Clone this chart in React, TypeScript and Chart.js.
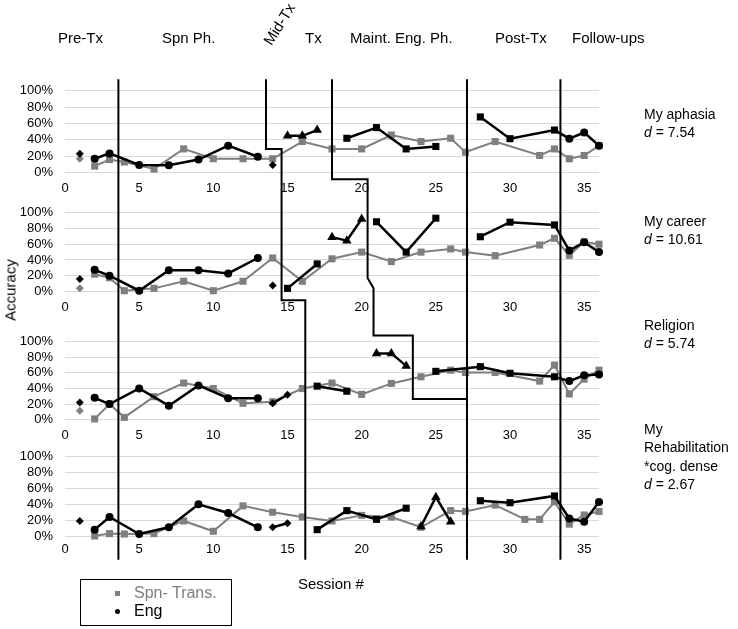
import React, { useEffect, useRef } from 'react';
import { Chart, registerables } from 'chart.js';
Chart.register(...registerables);

type Pt = [number, number];
type Sty = 'circle' | 'rect' | 'rectRot' | 'triangle';

// ---------- Panel 1: My aphasia ----------
const aphasiaSpnPre: Pt[] = [[1, 17]];
const aphasiaSpn: Pt[] = [[2, 8], [3, 16], [4, 13], [6, 4.5], [8, 29], [10, 17], [12, 17], [14, 17], [16, 38], [18, 29], [20, 29], [22, 46], [24, 38], [26, 42], [27, 25], [29, 38], [32, 21], [33, 29], [34, 17], [35, 21], [36, 33]];
const aphasiaEngPre: Pt[] = [[1, 23]];
const aphasiaEngSpnPh: Pt[] = [[2, 17], [3, 23.5], [5, 9.5], [7, 9], [9, 16], [11, 33], [13, 19.5]];
const aphasiaEngMid: Pt[] = [[14, 9.5]];
const aphasiaEngTx: Pt[] = [[15, 45], [16, 45], [17, 52]];
const aphasiaEngMaint: Pt[] = [[19, 42], [21, 55], [23, 29], [25, 32]];
const aphasiaEngPost: Pt[] = [[28, 68], [30, 41.5], [33, 52]];
const aphasiaEngFollow: Pt[] = [[34, 41.5], [35, 49], [36, 33]];

// ---------- Panel 2: My career ----------
const careerSpnPre: Pt[] = [[1, 4]];
const careerSpn: Pt[] = [[2, 22], [3, 17.5], [4, 1], [6, 4], [8, 13], [10, 1], [12, 13], [14, 42.5], [16, 13], [18, 41.5], [20, 50], [22, 38], [24, 50], [26, 54], [27, 50], [29, 45.5], [32, 59], [33, 67.5], [34, 46], [35, 63], [36, 60]];
const careerEngPre: Pt[] = [[1, 16]];
const careerEngSpnPh: Pt[] = [[2, 27.5], [3, 20], [5, 1], [7, 27], [9, 27], [11, 23], [13, 42.5]];
const careerEngMid: Pt[] = [[14, 7.5]];
const careerEngTxA: Pt[] = [[15, 4], [17, 35]];
const careerEngTxB: Pt[] = [[18, 69], [19, 64.5], [20, 92]];
const careerEngMaint: Pt[] = [[21, 88.5], [23, 50], [25, 93]];
const careerEngPost: Pt[] = [[28, 69.5], [30, 88], [33, 84.5]];
const careerEngFollow: Pt[] = [[34, 52], [35, 62.5], [36, 50]];

// ---------- Panel 3: Religion ----------
const religionSpnPre: Pt[] = [[1, 11.5]];
const religionSpn: Pt[] = [[2, 1], [3, 20], [4, 3], [6, 29.5], [8, 47], [10, 40], [12, 21], [14, 23], [16, 40], [18, 47], [20, 32.5], [22, 46.5], [24, 55], [26, 63.5], [27, 60.5], [29, 60.5], [32, 49.5], [33, 70], [34, 33], [35, 52], [36, 63.5]];
const religionEngPre: Pt[] = [[1, 22]];
const religionEngSpnPh: Pt[] = [[2, 28], [3, 20], [5, 40], [7, 18], [9, 44], [11, 27.5], [13, 27.5]];
const religionEngMid: Pt[] = [[14, 21], [15, 32]];
const religionEngTxA: Pt[] = [[17, 43], [19, 36.5]];
const religionEngTxB: Pt[] = [[21, 85], [22, 85], [23, 69]];
const religionEngMaint: Pt[] = [[25, 62]];
const religionEngPost: Pt[] = [[28, 68], [30, 59.5], [33, 55]];
const religionEngFollow: Pt[] = [[34, 49.5], [35, 57], [36, 58]];

// ---------- Panel 4: My Rehabilitation ----------
const rehabSpn: Pt[] = [[2, 0], [3, 3], [4, 2.5], [6, 3], [8, 19], [10, 6], [12, 38], [14, 30], [16, 24], [18, 19], [20, 26], [22, 24], [24, 11], [26, 32], [27, 31], [29, 39], [31, 21], [32, 21], [33, 43], [34, 15], [35, 26.5], [36, 31]];
const rehabEngPre: Pt[] = [[1, 19]];
const rehabEngSpnPh: Pt[] = [[2, 8], [3, 24], [5, 2.5], [7, 11], [9, 40], [11, 29], [13, 11]];
const rehabEngMid: Pt[] = [[14, 11], [15, 16]];
const rehabEngTxA: Pt[] = [[17, 8], [19, 32], [21, 21], [23, 35]];
const rehabEngTxB: Pt[] = [[24, 12], [25, 49], [26, 18]];
const rehabEngPost: Pt[] = [[28, 44.5], [30, 42], [33, 50.5]];
const rehabEngFollow: Pt[] = [[34, 22], [35, 18], [36, 43]];

// Phase lines: [session, panel axis, value]
type PP = [number, string, number];
const phaseLines: PP[][] = [
  [[3.6, 'y1', 114], [3.6, 'y4', -30]],
  [[13.55, 'y1', 114], [13.55, 'y1', 29], [14.6, 'y1', 29], [14.6, 'y2', -11], [16.2, 'y2', -11], [16.2, 'y4', -30]],
  [[18, 'y1', 114], [18, 'y1', -8], [20.4, 'y1', -8], [20.4, 'y2', 17], [20.8, 'y2', 4], [20.8, 'y3', 108], [23.45, 'y3', 108], [23.45, 'y3', 26.5], [27.1, 'y3', 26.5]],
  [[27.1, 'y1', 114], [27.1, 'y4', -30]],
  [[33.4, 'y1', 114], [33.4, 'y4', -30]],
];

const FONT = '"Liberation Sans", Arial, sans-serif';
const GRAY = '#7f7f7f';
const BLACK = '#000000';
const RAD: Record<Sty, number> = { circle: 4, rect: 5, rectRot: 4, triangle: 5.5 };

type Panel = { axis: string; spnPre: Pt[]; spn: Pt[]; eng: [Pt[], Sty][][] };
const panels: Panel[] = [
  {
    axis: 'y1', spnPre: aphasiaSpnPre, spn: aphasiaSpn,
    eng: [[[aphasiaEngPre, 'rectRot']], [[aphasiaEngSpnPh, 'circle']], [[aphasiaEngMid, 'rectRot']], [[aphasiaEngTx, 'triangle']], [[aphasiaEngMaint, 'rect']], [[aphasiaEngPost, 'rect'], [aphasiaEngFollow, 'circle']]],
  },
  {
    axis: 'y2', spnPre: careerSpnPre, spn: careerSpn,
    eng: [[[careerEngPre, 'rectRot']], [[careerEngSpnPh, 'circle']], [[careerEngMid, 'rectRot']], [[careerEngTxA, 'rect']], [[careerEngTxB, 'triangle']], [[careerEngMaint, 'rect']], [[careerEngPost, 'rect'], [careerEngFollow, 'circle']]],
  },
  {
    axis: 'y3', spnPre: religionSpnPre, spn: religionSpn,
    eng: [[[religionEngPre, 'rectRot']], [[religionEngSpnPh, 'circle']], [[religionEngMid, 'rectRot']], [[religionEngTxA, 'rect']], [[religionEngTxB, 'triangle']], [[religionEngMaint, 'rect'], [religionEngPost, 'rect'], [religionEngFollow, 'circle']]],
  },
  {
    axis: 'y4', spnPre: [], spn: rehabSpn,
    eng: [[[rehabEngPre, 'rectRot']], [[rehabEngSpnPh, 'circle']], [[rehabEngMid, 'rectRot']], [[rehabEngTxA, 'rect']], [[rehabEngTxB, 'triangle']], [[rehabEngPost, 'rect'], [rehabEngFollow, 'circle']]],
  },
];

function engDataset(parts: [Pt[], Sty][], axis: string) {
  const data: { x: number; y: number }[] = [];
  const styles: Sty[] = [];
  parts.forEach(([pts, st]) => pts.forEach(([x, y]) => { data.push({ x, y }); styles.push(st); }));
  return {
    label: 'Eng', data, yAxisID: axis, xAxisID: 'x',
    borderColor: BLACK, backgroundColor: BLACK, borderWidth: 2.5,
    pointStyle: styles, pointRadius: styles.map((s) => RAD[s]),
    pointBackgroundColor: BLACK, pointBorderColor: BLACK, pointBorderWidth: 0,
    showLine: true, clip: false, tension: 0, order: 0,
  };
}
function spnDataset(pts: Pt[], axis: string, style: Sty, line: boolean) {
  return {
    label: 'Spn- Trans.', data: pts.map(([x, y]) => ({ x, y })), yAxisID: axis, xAxisID: 'x',
    borderColor: GRAY, backgroundColor: GRAY, borderWidth: 2,
    pointStyle: style, pointRadius: RAD[style], pointBackgroundColor: GRAY, pointBorderColor: GRAY, pointBorderWidth: 0,
    showLine: line, clip: false, tension: 0, order: 1,
  };
}

const gapAxis = (weight: number, h: number) => ({
  type: 'linear', position: 'left', stack: 'p', stackWeight: h, weight, display: false, min: 0, max: 1,
});
const panelAxis = (weight: number, h: number) => ({
  type: 'linear', position: 'left', stack: 'p', stackWeight: h, weight, min: 0, max: 100,
  grid: { color: '#d9d9d9', lineWidth: 1, drawTicks: false },
  border: { display: false },
  ticks: { stepSize: 20, autoSkip: false, padding: 12, color: '#000', font: { family: FONT, size: 13 }, callback: (v: number) => v + '%' },
  afterFit: (s: any) => { s.width = 65; },
});

const phasePlugin = {
  id: 'phaseLines',
  afterDraw(chart: any) {
    const ctx = chart.ctx as CanvasRenderingContext2D;
    const xs = chart.scales.x;
    ctx.save();
    ctx.strokeStyle = '#000';
    ctx.lineWidth = 2;
    phaseLines.forEach((line) => {
      ctx.beginPath();
      line.forEach(([s, ax, v], i) => {
        const px = xs.getPixelForValue(s);
        const py = chart.scales[ax].getPixelForValue(v);
        if (i === 0) ctx.moveTo(px, py); else ctx.lineTo(px, py);
      });
      ctx.stroke();
    });
    ctx.fillStyle = '#000';
    ctx.font = `13px ${FONT}`;
    ctx.textAlign = 'center';
    ctx.textBaseline = 'middle';
    ['y1', 'y2', 'y3'].forEach((ax) => {
      const base = chart.scales[ax].getPixelForValue(0);
      xs.ticks.forEach((t: any) => {
        if (t.value % 5 === 0) ctx.fillText(String(t.value), xs.getPixelForValue(t.value), base + 16);
      });
    });
    ctx.restore();
  },
};

const Txt = ({ x, y, size = 15, children, style }: any) => (
  <div style={{ position: 'absolute', left: x, top: y, transform: 'translateY(-50%)', fontSize: size, fontFamily: FONT, whiteSpace: 'nowrap', lineHeight: 1, color: '#000', ...style }}>{children}</div>
);

export default function App() {
  const ref = useRef<HTMLCanvasElement>(null);
  useEffect(() => {
    if (!ref.current) return;
    const datasets: any[] = [];
    panels.forEach((p) => {
      p.eng.forEach((parts) => datasets.push(engDataset(parts, p.axis)));
    });
    panels.forEach((p) => {
      datasets.push(spnDataset(p.spn, p.axis, 'rect', true));
      if (p.spnPre.length) datasets.push(spnDataset(p.spnPre, p.axis, 'rectRot', false));
    });
    const chart = new Chart(ref.current, {
      type: 'scatter',
      data: { datasets },
      plugins: [phasePlugin],
      options: {
        responsive: false,
        animation: false,
        events: [],
        layout: { padding: { left: 0, right: 139, top: 79, bottom: 73 }, autoPadding: false },
        plugins: { legend: { display: false }, tooltip: { enabled: false } },
        scales: {
          x: {
            type: 'linear', position: 'bottom', min: 0, max: 36,
            grid: { display: false, drawTicks: false }, border: { display: false },
            ticks: { stepSize: 5, includeBounds: false, autoSkip: false, maxRotation: 0, padding: 6, color: '#000', font: { family: FONT, size: 13 },
              callback: (v: number) => (v % 5 === 0 ? String(v) : null) },
            afterFit: (s: any) => { s.height = 20; },
          },
          g0: gapAxis(8, 11.7),
          y1: panelAxis(7, 82),
          g1: gapAxis(6, 40),
          y2: panelAxis(5, 78.8),
          g2: gapAxis(4, 50.2),
          y3: panelAxis(3, 78),
          g3: gapAxis(2, 37),
          y4: panelAxis(1, 79.3),
        } as any,
      },
    } as any);
    return () => chart.destroy();
  }, []);

  return (
    <div style={{ position: 'absolute', left: 0, top: 0, width: 738, height: 629, background: '#fff', overflow: 'hidden' }}>
      <canvas ref={ref} width={738} height={629} style={{ position: 'absolute', left: 0, top: 0, display: 'block' }} />
      <Txt x={58} y={37}>Pre-Tx</Txt>
      <Txt x={162} y={37}>Spn Ph.</Txt>
      <div style={{ position: 'absolute', left: 279, top: 24, transform: 'translate(-50%,-50%) rotate(-58deg)', fontSize: 15, fontFamily: FONT, whiteSpace: 'nowrap', lineHeight: 1 }}>Mid-Tx</div>
      <Txt x={305} y={37}>Tx</Txt>
      <Txt x={350} y={37}>Maint. Eng. Ph.</Txt>
      <Txt x={495} y={37}>Post-Tx</Txt>
      <Txt x={572} y={37}>Follow-ups</Txt>

      <Txt x={644} y={114} size={14}>My aphasia</Txt>
      <Txt x={644} y={132} size={14}><i>d</i> = 7.54</Txt>
      <Txt x={644} y={221} size={14}>My career</Txt>
      <Txt x={644} y={239} size={14}><i>d</i> = 10.61</Txt>
      <Txt x={644} y={325} size={14}>Religion</Txt>
      <Txt x={644} y={343} size={14}><i>d</i> = 5.74</Txt>
      <Txt x={644} y={429} size={14}>My</Txt>
      <Txt x={644} y={447} size={14}>Rehabilitation</Txt>
      <Txt x={644} y={466} size={14}>*cog. dense</Txt>
      <Txt x={644} y={484} size={14}><i>d</i> = 2.67</Txt>

      <div style={{ position: 'absolute', left: 10, top: 290, transform: 'translate(-50%,-50%) rotate(-90deg)', fontSize: 15, fontFamily: FONT, whiteSpace: 'nowrap', lineHeight: 1 }}>Accuracy</div>
      <Txt x={298} y={583}>Session #</Txt>

      <div style={{ position: 'absolute', left: 80, top: 579, width: 152, height: 47, border: '1px solid #000', boxSizing: 'border-box', background: '#fff' }}>
        <div style={{ position: 'absolute', left: 34, top: 11, width: 5, height: 5, background: GRAY }} />
        <Txt x={53} y={13} size={16} style={{ color: GRAY }}>Spn- Trans.</Txt>
        <div style={{ position: 'absolute', left: 34, top: 29, width: 5, height: 5, borderRadius: '50%', background: BLACK }} />
        <Txt x={53} y={31} size={16}>Eng</Txt>
      </div>
    </div>
  );
}
